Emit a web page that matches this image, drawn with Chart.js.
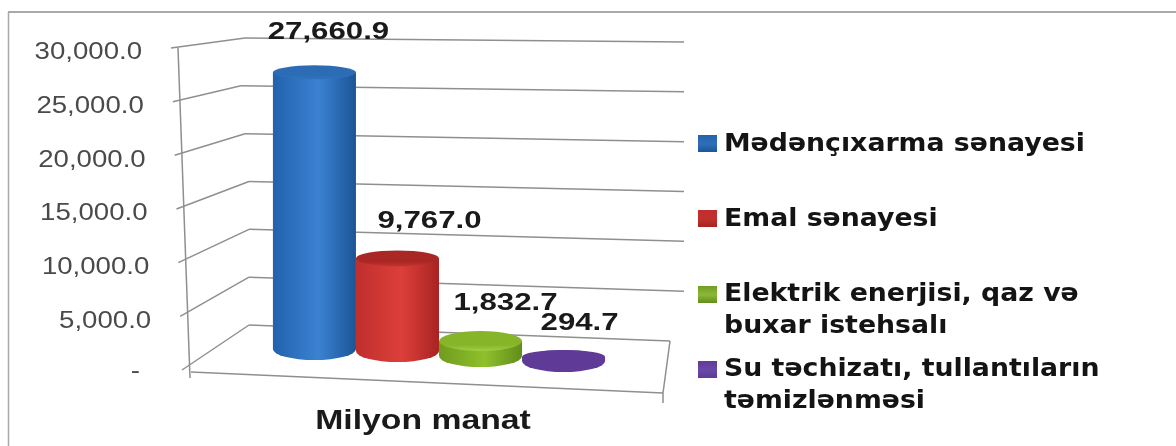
<!DOCTYPE html>
<html><head><meta charset="utf-8">
<style>html,body{margin:0;padding:0;background:#fff}canvas{display:block;filter:blur(.6px)}</style>
<script src="https://cdn.jsdelivr.net/npm/chart.js@4/dist/chart.umd.min.js"></script>
</head><body><canvas id="c" width="1176" height="446"></canvas>
<script>
const categories = ["Milyon manat"];
const seriesNames = ["Mədənçıxarma sənayesi","Emal sənayesi","Elektrik enerjisi, qaz və buxar istehsalı","Su təchizatı, tullantıların təmizlənməsi"];
const miningValues = [27660.9];
const processingValues = [9767.0];
const energyValues = [1832.7];
const waterValues = [294.7];
const dataLabels = ["27,660.9","9,767.0","1,832.7","294.7"];
const tickLabels = ["-","5,000.0","10,000.0","15,000.0","20,000.0","25,000.0","30,000.0"];
const legendLines = [["Mədənçıxarma sənayesi"],["Emal sənayesi"],["Elektrik enerjisi, qaz və","buxar istehsalı"],["Su təchizatı, tullantıların","təmizlənməsi"]];

const palette = [
 {edge:'#2262ab',mid:'#3b82d2',dark:'#1b5597',top:'#2b6cb5',topHi:'#2f74c0',key:'#2f6fb8'},
 {edge:'#bf2f2d',mid:'#dd3f3a',dark:'#a82322',top:'#a92826',topHi:'#c43330',key:'#c0302c'},
 {edge:'#6f9c1e',mid:'#8fc02c',dark:'#628d1a',top:'#86b52a',topHi:'#a0cf42',key:'#8ab838'},
 {edge:'#5f3a96',mid:'#5f3a96',dark:'#5f3a96',top:'#5f3a96',topHi:'#5f3a96',key:'#6a48a8'}
];
const baseDepth = [1058, 865, 385, -96];
const topRy = [7, 8, 10, 7];
const bottomRy = 11;
const labelOffset = [[14,-40],[32,-37],[25,-38],[16,-34]];
const BAR_FRAC = .667;

function barGrad(chart,i){
  const x = chart.scales.x, p = palette[i];
  if(!x || !isFinite(x.width) || !isFinite(x.getPixelForValue(0))) return p.mid;
  const c = chart.canvas.getContext('2d');
  const w = x.width*BAR_FRAC/4;
  const cx = x.getPixelForValue(0)+(i-1.5)*w;
  const g = c.createLinearGradient(cx-w/2,0,cx+w/2,0);
  g.addColorStop(0,p.edge); g.addColorStop(.55,p.mid); g.addColorStop(1,p.dark);
  return g;
}

function stretched(c,txt,x,y,sx,align){
  c.save(); c.translate(x,y); c.scale(sx,1);
  c.textAlign=align; c.textBaseline='middle'; c.fillText(txt,0,0); c.restore();
}
function seg(c,a,b,d,e){c.beginPath();c.moveTo(a,b);c.lineTo(d,e);c.stroke();}

const decor = {
 id:'decor',
 beforeDatasetsDraw(chart){
  const c=chart.ctx, y=chart.scales.y;
  c.save();
  c.strokeStyle='#a9a9a9'; c.lineWidth=2; seg(c,8,12,1176,12); 
  c.lineWidth=1.5; seg(c,8.5,12,8.5,446);
  c.strokeStyle='#8f8f8f'; c.lineWidth=1.5;
  const fy=v=>y.getPixelForValue(v);
  const backLeftX=[249,249,249,249,245,241,245];
  y.ticks.forEach((t,k)=>{
    const py=fy(t.value), f=(py-y.bottom)/(y.top-y.bottom);
    const fx=189-11*f;
    const by=325-287*f, rY=341-299*f, bx=backLeftX[k];
    seg(c,fx-7,py,bx,by);
    if(k>0) seg(c,bx,by,684,rY);
  });
  seg(c,178,48,190,378);
  seg(c,249,325,670,341); seg(c,670,341,663,393); seg(c,191,372,663,393); seg(c,663,393,663,403);
  chart.data.datasets.forEach((d,i)=>{
    const el=chart.getDatasetMeta(i).data[0];
    c.fillStyle=barGrad(chart,i);
    c.beginPath(); c.ellipse(el.x,el.base,el.width/2,bottomRy,0,0,Math.PI*2); c.fill();
  });
  c.restore();
 },
 afterDatasetsDraw(chart){
  const c=chart.ctx, y=chart.scales.y;
  c.save();
  chart.data.datasets.forEach((d,i)=>{
    const el=chart.getDatasetMeta(i).data[0], p=palette[i], ry=topRy[i];
    const g=c.createLinearGradient(0,el.y-ry,0,el.y+ry);
    g.addColorStop(0,p.top); g.addColorStop(.7,p.top); g.addColorStop(1,p.topHi);
    c.fillStyle=g; c.beginPath(); c.ellipse(el.x,el.y,el.width/2,ry,0,0,Math.PI*2); c.fill();
    c.font='bold 24px "Liberation Sans"';
    c.fillStyle='#1a1a1a';
    stretched(c,dataLabels[i],el.x+labelOffset[i][0],el.y+labelOffset[i][1],1.3,'center');
  });
  c.fillStyle='#4a4a4a'; c.font='23px "Liberation Sans"';
  y.ticks.forEach((t,k)=>{
    const py=y.getPixelForValue(t.value), f=(py-y.bottom)/(y.top-y.bottom);
    stretched(c,t.label,(k===0?140:153-11*f),py+(k===0?2:3+3*(1-f)*0+2),1.2,'right');
  });
  c.fillStyle='#1a1a1a'; c.font='bold 27px "Liberation Sans"';
  stretched(c,chart.data.labels[0],423,422,1.25,'center');
  const rows=[[143],[218],[293,325],[368,400]];
  rows.forEach((r,i)=>{
    const p=palette[i], my=i<2?r[0]:r[0]+1;
    const g=c.createLinearGradient(0,my-9,0,my+9);
    g.addColorStop(0,p.edge); g.addColorStop(.55,p.key); g.addColorStop(1,p.dark);
    c.fillStyle=g; c.fillRect(698,my-8,19,17);
    c.fillStyle='#141414'; c.font='bold 25px "DejaVu Sans"';
    r.forEach((ly,j)=>stretched(c,legendLines[i][j],724,ly+1,1.07,'left'));
  });
  c.restore();
 }
};

const mk=(i,vals)=>({label:seriesNames[i],data:vals,yAxisID:'yBars',base:baseDepth[i],
  backgroundColor:ctx=>barGrad(ctx.chart,i),borderWidth:0,categoryPercentage:BAR_FRAC,barPercentage:1});

new Chart(document.getElementById('c'),{
 type:'bar',
 data:{labels:categories,datasets:[mk(0,miningValues),mk(1,processingValues),mk(2,energyValues),mk(3,waterValues)]},
 options:{
  responsive:false,animation:false,events:[],
  layout:{padding:{left:190,right:1176-688,top:48,bottom:446-370}},
  plugins:{legend:{display:false},tooltip:{enabled:false},title:{display:false}},
  scales:{
   x:{display:false},
   y:{display:false,min:0,max:30000,ticks:{stepSize:5000,callback:(v,i)=>tickLabels[i]}},
   yBars:{display:false,min:-960,max:30000}
  }
 },
 plugins:[decor]
});
</script></body></html>
